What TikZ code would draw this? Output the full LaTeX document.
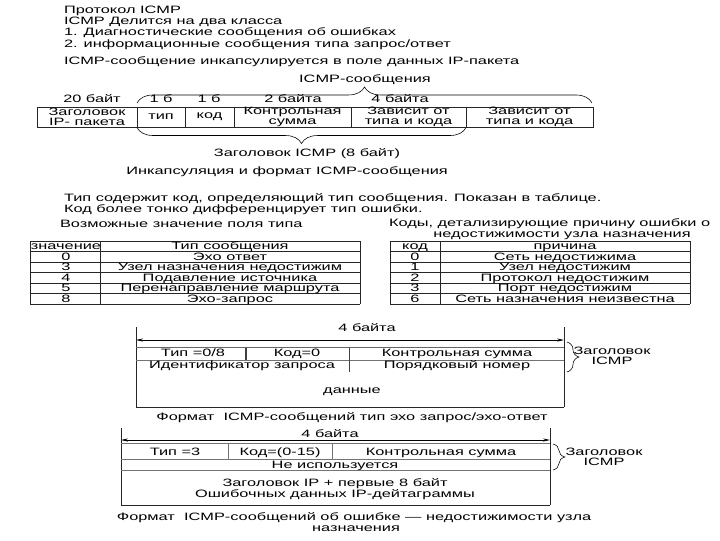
\documentclass[tikz,border=0pt]{standalone}
\usepackage{fontspec}
\setmainfont[FakeStretch=1.53]{Liberation Sans}
\usetikzlibrary{arrows.meta,decorations.pathreplacing}
\begin{document}
\begin{tikzpicture}[x=0.025cm,y=-0.025cm,
  every node/.style={inner sep=0pt,outer sep=0pt},
  txt/.style={font=\fontsize{7.6}{8}\selectfont, anchor=base west},
  ctr/.style={font=\fontsize{7.6}{8}\selectfont, anchor=base},
  cell/.style={font=\fontsize{7.6}{7.1}\selectfont, anchor=center, align=center},
  grid/.style={line width=0.45pt, black!85},
  lgrid/.style={line width=0.4pt, black!55},
  brc/.style={line width=0.4pt, decorate, decoration={brace, amplitude=#1}},
  dim/.style={{Stealth[length=5pt,width=2.2pt]}-{Stealth[length=5pt,width=2.2pt]}, line width=0.5pt},
]
\useasboundingbox (0,0) rectangle (720,540);
\fill[white] (0,0) rectangle (720,540);

% ---- top text
\node[txt] (t1) at (64,13.5) {Протокол ICMP};
\node[txt] (t2) at (64,24) {ICMP Делится на два класса};
\node[txt] (t3) at (64,35.5) {1. Диагностические сообщения об ошибках};
\node[txt] (t4) at (64,47) {2. информационные сообщения типа запрос/ответ};
\node[txt] (t5) at (64,64.5) {ICMP-сообщение инкапсулируется в поле данных IP-пакета};

% ---- encapsulation diagram
\node[ctr] (lmsg) at (365,82) {ICMP-сообщения};
\node[ctr] (h1) at (92,102) {20 байт};
\node[ctr] (h2) at (161,102) {1 б};
\node[ctr] (h3) at (209,102) {1 б};
\node[ctr] (h4) at (293,102) {2 байта};
\node[ctr] (h5) at (400,102) {4 байта};

\draw[grid] (37,107) rectangle (593,127);
\foreach \xx in {137,185,234,351,466} \draw[grid] (\xx,107) -- (\xx,127);
\node[cell] (c1) at (87,117) {Заголовок\\IP- пакета};
\node[cell] (c2) at (161,117) {тип};
\node[cell] (c3) at (209.5,117) {код};
\node[cell] (c4) at (292.5,117) {Контрольная\\сумма};
\node[cell] (c5) at (408.5,117) {Зависит от\\типа и кода};
\node[cell] (c6) at (529.5,117) {Зависит от\\типа и кода};

\coordinate (bt1) at (137,103);
\coordinate (bt2) at (592,103);
\draw[brc=11.4pt] (bt1) -- (bt2);
\coordinate (bb1) at (466,127.5);
\coordinate (bb2) at (137,127.5);
\draw[brc=11.4pt] (bb1) -- (bb2);

\node[ctr] (hdr8) at (307,156) {Заголовок ICMP (8 байт)};
\node[ctr] (enc) at (287,174) {Инкапсуляция и формат ICMP-сообщения};

% ---- middle text
\node[txt] (m1) at (64,201.5) {Тип содержит код, определяющий тип сообщения. Показан в таблице.};
\node[txt] (m2) at (64,212.5) {Код более тонко дифференцирует тип ошибки.};
\node[txt] (m3) at (60,227.5) {Возможные значение поля типа};
\node[txt] (m4) at (389,226) {Коды, детализирующие причину ошибки о};
\node[ctr] (m5) at (562,237.5) {недостижимости узла назначения};

% ---- left table
\foreach \yy in {241,251.5,262,272.5,283,293.5,304} \draw[grid] (30,\yy) -- (360,\yy);
\foreach \xx in {30,100,360} \draw[grid] (\xx,241) -- (\xx,304);
\node[ctr] (l0a) at (66,249.8) {значение};
\node[ctr] (l0b) at (230,249.8) {Тип сообщения};
\node[ctr] (l1a) at (66,260.3) {0};
\node[ctr] (l1b) at (230,260.3) {Эхо ответ};
\node[ctr] (l2a) at (66,270.8) {3};
\node[ctr] (l2b) at (230,270.8) {Узел назначения недостижим};
\node[ctr] (l3a) at (66,281.3) {4};
\node[ctr] (l3b) at (230,281.3) {Подавление источника};
\node[ctr] (l4a) at (66,291.8) {5};
\node[ctr] (l4b) at (230,291.8) {Перенаправление маршрута};
\node[ctr] (l5a) at (66,302.3) {8};
\node[ctr] (l5b) at (230,302.3) {Эхо-запрос};

% ---- right table
\foreach \yy in {241,251.5,262,272.5,283,293.5,304} \draw[grid] (390,\yy) -- (690,\yy);
\foreach \xx in {390,440,690} \draw[grid] (\xx,241) -- (\xx,304);
\node[ctr] (r0a) at (415,249.8) {код};
\node[ctr] (r0b) at (565,249.8) {причина};
\node[ctr] (r1a) at (415,260.3) {0};
\node[ctr] (r1b) at (565,260.3) {Сеть недостижима};
\node[ctr] (r2a) at (415,270.8) {1};
\node[ctr] (r2b) at (565,270.8) {Узел недостижим};
\node[ctr] (r3a) at (415,281.3) {2};
\node[ctr] (r3b) at (565,281.3) {Протокол недостижим};
\node[ctr] (r4a) at (415,291.8) {3};
\node[ctr] (r4b) at (565,291.8) {Порт недостижим};
\node[ctr] (r5a) at (415,302.3) {6};
\node[ctr] (r5b) at (565,302.3) {Сеть назначения неизвестна};

% ---- echo format
\node[ctr] (e4) at (367,331.5) {4 байта};
\coordinate (eL) at (136,340);
\coordinate (eR) at (564,340);
\draw[grid] (136,327) -- (136,407);
\draw[grid] (564,327) -- (564,407);
\draw[dim] (eL) -- (eR);
\draw[line width=1.1pt, black!60] (136,347.5) -- (564,347.5);
\draw[lgrid] (136,360) -- (564,360);
\draw[line width=0.8pt, black!75] (246,347.5) -- (246,360);
\draw[line width=0.6pt, black!75] (349,347.5) -- (349,372);
\draw[grid] (136,407) -- (564,407);
\node[ctr] (e11) at (193,356.5) {Тип =0/8};
\node[ctr] (e12) at (297,356.5) {Код=0};
\node[ctr] (e13) at (457,356.5) {Контрольная сумма};
\node[ctr] (e21) at (242,368.5) {Идентификатор запроса};
\node[ctr] (e22) at (457,368.5) {Порядковый номер};
\node[ctr] (e3) at (352,393) {данные};
\coordinate (eb1) at (567,342);
\coordinate (eb2) at (567,372);
\draw[brc=8.5pt] (eb1) -- (eb2);
\node[cell] (elab) at (612,356) {Заголовок\\ICMP};
\node[ctr] (ecap) at (352,420) {Формат \ ICMP-сообщений тип эхо запрос/эхо-ответ};

% ---- error format
\node[ctr] (u4) at (330,437) {4 байта};
\coordinate (uL) at (121,440);
\coordinate (uR) at (550,440);
\draw[grid] (121,428) -- (121,505);
\draw[grid] (550,428) -- (550,505);
\draw[dim] (uL) -- (uR);
\draw[lgrid] (121,443.5) -- (550,443.5);
\draw[lgrid] (121,459) -- (550,459);
\draw[lgrid] (121,470.5) -- (550,470.5);
\draw[grid] (121,505) -- (550,505);
\draw[lgrid] (228,443.5) -- (228,459);
\draw[lgrid] (332,443.5) -- (332,459);
\node[ctr] (u11) at (175,455) {Тип =3};
\node[ctr] (u12) at (280,455) {Код=(0-15)};
\node[ctr] (u13) at (441,455) {Контрольная сумма};
\node[ctr] (u2) at (335,468) {Не используется};
\node[ctr] (u31) at (335,486.5) {Заголовок IP + первые 8 байт};
\node[ctr] (u32) at (335,497.5) {Ошибочных данных IP-дейтаграммы};
\coordinate (ub1) at (553,444);
\coordinate (ub2) at (553,470);
\draw[brc=8.5pt] (ub1) -- (ub2);
\node[cell] (ulab) at (604,457) {Заголовок\\ICMP};
\node[ctr] (ucap1) at (354,520.5) {Формат \ ICMP-сообщений об ошибке — недостижимости узла};
\node[ctr] (ucap2) at (356,531.5) {назначения};
\end{tikzpicture}
\end{document}
